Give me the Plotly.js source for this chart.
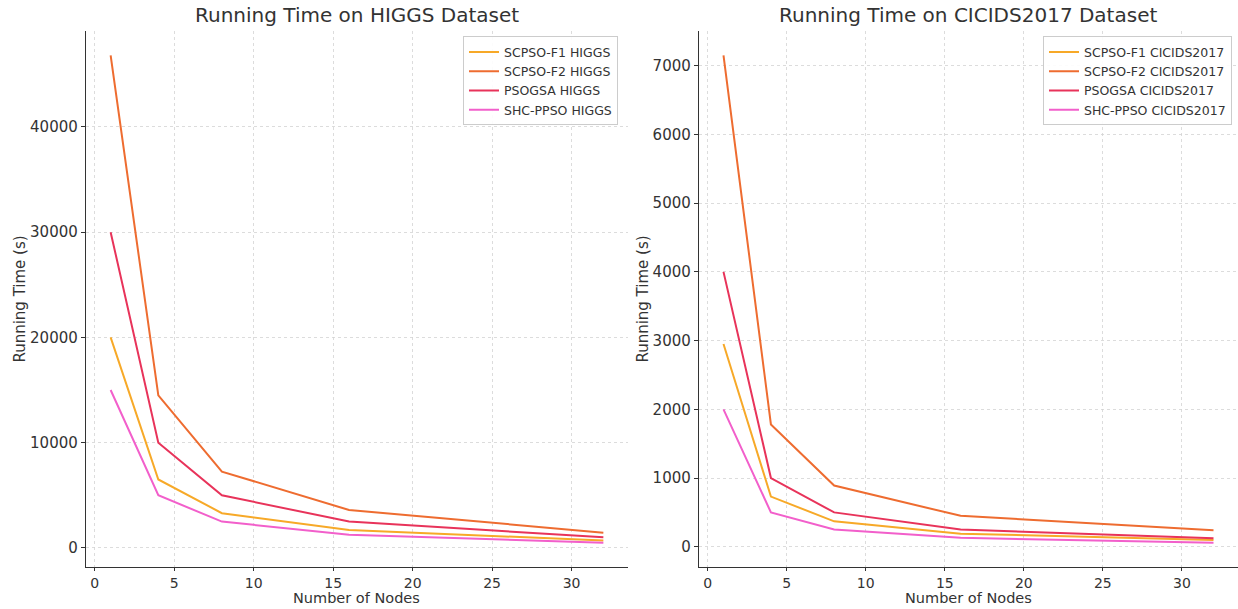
<!DOCTYPE html>
<html>
<head>
<meta charset="utf-8">
<script src="https://cdn.plot.ly/plotly-3.0.1.min.js"></script>
<style>
html,body{margin:0;padding:0;background:#fff;}
#chart{width:1238px;height:609px;}
</style>
</head>
<body>
<div id="chart"></div>
<script>
const nodes = [1, 4, 8, 16, 32];

const higgsF1 = [20000, 6500, 3300, 1700, 700];
const higgsF2 = [46800, 14500, 7250, 3600, 1450];
const higgsPSOGSA = [30000, 10000, 5000, 2500, 1000];
const higgsSHC = [15000, 5000, 2500, 1250, 500];

const cicF1 = [2950, 730, 370, 190, 100];
const cicF2 = [7150, 1780, 890, 450, 240];
const cicPSOGSA = [4000, 1000, 500, 250, 125];
const cicSHC = [2000, 500, 250, 130, 60];

const seriesNames = ["SCPSO-F1", "SCPSO-F2", "PSOGSA", "SHC-PPSO"];
const colors = ["#F7A928", "#EE6C30", "#E8335A", "#F25FCB"];

const higgs = [higgsF1, higgsF2, higgsPSOGSA, higgsSHC];
const cic = [cicF1, cicF2, cicPSOGSA, cicSHC];

const font = "DejaVu Sans, sans-serif";
const traces = [];
higgs.forEach((ys, i) => traces.push({
  x: nodes, y: ys, type: "scatter", mode: "lines",
  name: seriesNames[i] + " HIGGS",
  line: {color: colors[i], width: 2},
  xaxis: "x", yaxis: "y", legend: "legend"
}));
cic.forEach((ys, i) => traces.push({
  x: nodes, y: ys, type: "scatter", mode: "lines",
  name: seriesNames[i] + " CICIDS2017",
  line: {color: colors[i], width: 2},
  xaxis: "x2", yaxis: "y2", legend: "legend2"
}));

function pad(arr) {
  const all = [].concat(...arr);
  const mn = Math.min(...all), mx = Math.max(...all);
  const d = (mx - mn) * 0.05;
  return [mn - d, mx + d];
}

const axBase = {
  showline: true, linecolor: "#333", linewidth: 1.2, mirror: false,
  ticks: "outside", ticklen: 4, tickcolor: "#333", tickwidth: 1,
  showgrid: true, gridcolor: "#d3d3d3", gridwidth: 0.8, griddash: "dot",
  zeroline: false, tickformat: "d",
  tickfont: {family: font, size: 15, color: "#333"}
};
const xTickFont = {family: font, size: 14, color: "#333"};
const titleFont = {family: font, size: 15, color: "#333"};
const xTitleFont = {family: font, size: 14.5, color: "#333"};

const L1 = 86/1238, R1 = 628/1238, L2 = 699/1238, R2 = 1;

const layout = {
  width: 1238, height: 609,
  margin: {l: 0, r: 0, t: 31, b: 42},
  paper_bgcolor: "#fff", plot_bgcolor: "#fff",
  showlegend: true,
  font: {family: font, color: "#333"},
  xaxis: Object.assign({}, axBase, {
    domain: [L1, R1], range: [-0.55, 33.55], dtick: 5, tick0: 0, anchor: "y",
    tickfont: xTickFont, ticklen: 3
  }),
  yaxis: Object.assign({}, axBase, {
    domain: [0, 1], range: pad(higgs), dtick: 10000, tick0: 0, anchor: "x",
    title: {text: "Running Time (s)", font: titleFont, standoff: 0}
  }),
  xaxis2: Object.assign({}, axBase, {
    domain: [L2, R2], range: [-0.55, 33.55], dtick: 5, tick0: 0, anchor: "y2",
    tickfont: xTickFont, ticklen: 3
  }),
  yaxis2: Object.assign({}, axBase, {
    domain: [0, 1], range: pad(cic), dtick: 1000, tick0: 0, anchor: "x2",
    title: {text: "Running Time (s)", font: titleFont, standoff: 0}
  }),
  legend: {
    x: 618/1238, xanchor: "right", xref: "paper",
    y: 0.99, yanchor: "top",
    bgcolor: "rgba(255,255,255,0.9)", bordercolor: "#cccccc", borderwidth: 1,
    font: {family: font, size: 12.5, color: "#333"},
    tracegroupgap: 0, itemwidth: 30
  },
  legend2: {
    x: 1232/1238, xanchor: "right", xref: "paper",
    y: 0.99, yanchor: "top",
    bgcolor: "rgba(255,255,255,0.9)", bordercolor: "#cccccc", borderwidth: 1,
    font: {family: font, size: 12.5, color: "#333"},
    tracegroupgap: 0, itemwidth: 30
  },
  annotations: [
    {text: "Running Time on HIGGS Dataset", xref: "paper", yref: "paper",
     x: (L1 + R1) / 2, xanchor: "center", y: 1, yanchor: "bottom", yshift: 2, showarrow: false,
     font: {family: font, size: 20, color: "#333"}},
    {text: "Running Time on CICIDS2017 Dataset", xref: "paper", yref: "paper",
     x: (L2 + R2) / 2, xanchor: "center", y: 1, yanchor: "bottom", yshift: 2, showarrow: false,
     font: {family: font, size: 20, color: "#333"}},
    {text: "Number of Nodes", xref: "paper", yref: "paper",
     x: (L1 + R1) / 2, xanchor: "center", y: 0, yanchor: "top", yshift: -22, showarrow: false,
     borderpad: 0, font: xTitleFont},
    {text: "Number of Nodes", xref: "paper", yref: "paper",
     x: (L2 + R2) / 2, xanchor: "center", y: 0, yanchor: "top", yshift: -22, showarrow: false,
     borderpad: 0, font: xTitleFont}
  ]
};

Plotly.newPlot("chart", traces, layout, {displayModeBar: false, staticPlot: true});
</script>
</body>
</html>
